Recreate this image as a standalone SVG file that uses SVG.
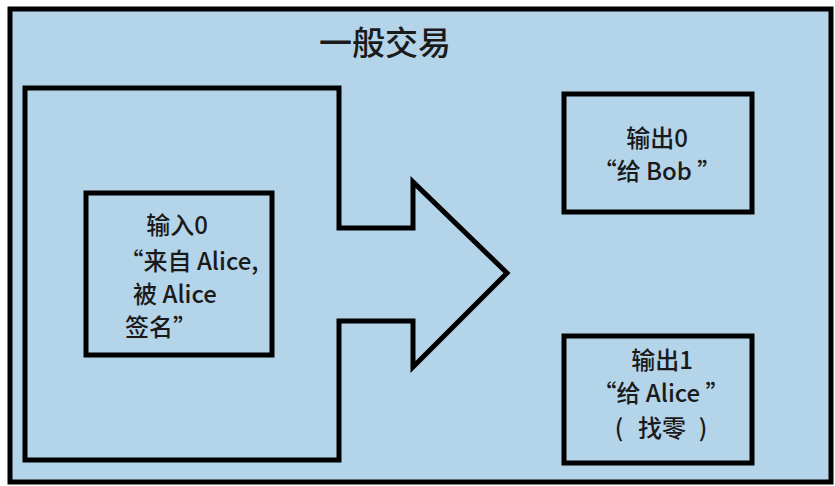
<svg xmlns="http://www.w3.org/2000/svg" width="835" height="486" viewBox="0 0 835 486">
<style>
.box{fill:#b4d4ea;stroke:#000;stroke-width:5;stroke-linejoin:miter}
.t{font-family:"Noto Sans CJK SC","Liberation Sans",sans-serif;font-size:24px;font-weight:500;fill:#1a1a1a;text-anchor:middle}
.title{font-family:"Noto Sans CJK SC","Liberation Sans",sans-serif;font-size:33px;font-weight:500;fill:#1a1a1a;text-anchor:middle}
</style>
<rect width="835" height="486" fill="#ffffff"/>
<g id="transaction">
<rect class="box" x="10" y="9" width="821" height="473" stroke-width="4"/>
<text class="title" x="385" y="55">一般交易</text>
</g>
<g id="connectors">
<polygon class="box" points="25,88 339,88 339,228 413,228 413,182 507,273 413,367 413,321 339,321 339,460 25,460"/>
</g>
<g id="input0">
<rect class="box" x="86" y="193" width="186" height="162"/>
<text class="t" x="177" y="234">输入0</text>
<text class="t" x="189" y="270">“来自 Alice,</text>
<text class="t" x="175" y="303">被 Alice</text>
<text class="t" x="161" y="336">签名”</text>
</g>
<g id="output0">
<rect class="box" x="564" y="94" width="188" height="118"/>
<text class="t" x="657" y="147">输出0</text>
<text class="t" x="657" y="180">“给 Bob ”</text>
</g>
<g id="output1">
<rect class="box" x="564" y="336" width="188" height="127"/>
<text class="t" x="662" y="369">输出1</text>
<text class="t" x="661" y="402">“给 Alice ”</text>
<text class="t" y="437"><tspan x="619">(</tspan><tspan x="662">找零</tspan><tspan x="703">)</tspan></text>
</g>
</svg>
